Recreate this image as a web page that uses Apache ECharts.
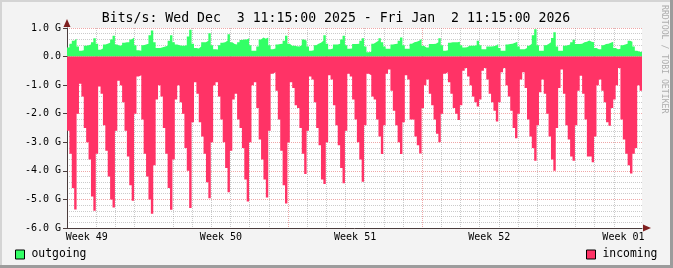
<!DOCTYPE html>
<html>
<head>
<meta charset="utf-8">
<script src="https://cdn.jsdelivr.net/npm/echarts@6/dist/echarts.min.js"></script>
<style>
html,body{margin:0;padding:0;background:#f3f3f3;}
#c{width:673px;height:268px;}
</style>
</head>
<body>
<div id="c"></div>
<script>
// ---- data (Gbit/s), one value per 3-hour bin starting Wed Dec 3 11:15 ----
const titleText = 'Bits/s: Wed Dec  3 11:15:00 2025 - Fri Jan  2 11:15:00 2026';
const seriesNames = ['outgoing', 'incoming'];
const weekLabels = ['Week 49', 'Week 50', 'Week 51', 'Week 52', 'Week 01'];

const incoming = [
  -2.6, -3.4, -4.6, -5.35, -2.0, -0.95, -1.4, -2.5,
  -3.0, -3.6, -4.9, -5.4, -3.4, -1.05, -1.3, -2.4,
  -3.3, -4.2, -5.0, -5.28, -2.6, -0.85, -1.0, -1.6,
  -2.6, -3.5, -4.5, -5.05, -2.0, -0.7, -0.65, -2.2,
  -3.4, -4.2, -5.0, -5.5, -3.8, -1.5, -1.0, -1.4,
  -2.5, -3.4, -4.6, -5.36, -3.6, -1.5, -1.0, -1.6,
  -2.0, -3.2, -4.0, -5.3, -2.3, -0.9, -1.3, -2.3,
  -2.8, -3.4, -4.4, -4.96, -3.0, -1.0, -0.9, -1.4,
  -2.2, -3.0, -3.9, -4.75, -3.3, -1.5, -1.3, -2.2,
  -2.5, -3.2, -4.3, -5.07, -3.0, -1.0, -0.9, -1.8,
  -2.9, -3.6, -4.3, -4.93, -2.6, -0.6, -0.55, -1.2,
  -2.2, -3.3, -4.5, -5.14, -3.0, -0.9, -1.1, -1.7,
  -1.8, -2.5, -3.4, -4.11, -2.6, -0.7, -0.8, -1.6,
  -2.5, -3.1, -4.3, -4.46, -3.0, -0.65, -0.8, -1.7,
  -2.4, -3.1, -3.9, -4.43, -2.6, -0.6, -0.7, -1.5,
  -2.2, -3.0, -3.6, -4.38, -2.4, -0.6, -0.65, -1.4,
  -1.5, -2.2, -2.8, -3.41, -2.4, -0.6, -0.45, -1.2,
  -1.9, -2.4, -3.0, -3.41, -2.3, -0.65, -0.8, -2.2,
  -2.2, -2.8, -3.1, -3.39, -1.8, -1.0, -0.8, -1.3,
  -1.7, -2.2, -2.7, -3.0, -2.0, -0.6, -0.55, -0.9,
  -1.3, -1.8, -2.0, -2.22, -1.7, -0.5, -0.4, -0.7,
  -1.0, -1.4, -1.6, -1.75, -1.5, -0.5, -0.4, -0.8,
  -1.3, -1.6, -1.9, -2.27, -1.6, -0.55, -0.4, -1.0,
  -1.4, -1.9, -2.5, -2.86, -2.0, -0.8, -0.55, -1.1,
  -2.2, -2.8, -3.2, -3.65, -2.4, -1.25, -0.8, -1.3,
  -2.0, -2.8, -3.6, -4.0, -2.5, -1.1, -0.45, -1.3,
  -2.4, -2.9, -3.5, -3.65, -2.4, -1.2, -0.67, -1.3,
  -2.2, -3.5, -3.5, -3.7, -2.8, -1.0, -0.8, -1.2,
  -1.6, -2.3, -2.42, -1.8, -1.5, -1.0, -0.4, -2.2,
  -2.9, -3.4, -3.8, -4.09, -3.4, -3.2, -1.0, -1.2
];

const outgoing = [
  0.32, 0.45, 0.55, 0.62, 0.35, 0.20, 0.22, 0.38,
  0.40, 0.42, 0.50, 0.64, 0.45, 0.24, 0.28, 0.42,
  0.45, 0.48, 0.60, 0.73, 0.42, 0.38, 0.40, 0.48,
  0.50, 0.50, 0.60, 0.67, 0.40, 0.22, 0.20, 0.40,
  0.42, 0.45, 0.75, 0.91, 0.50, 0.30, 0.30, 0.33,
  0.35, 0.38, 0.55, 0.75, 0.50, 0.42, 0.40, 0.38,
  0.38, 0.40, 0.70, 0.94, 0.45, 0.30, 0.28, 0.35,
  0.50, 0.50, 0.55, 0.82, 0.40, 0.26, 0.25, 0.40,
  0.48, 0.50, 0.55, 0.78, 0.50, 0.44, 0.42, 0.50,
  0.58, 0.60, 0.60, 0.64, 0.40, 0.20, 0.20, 0.35,
  0.60, 0.67, 0.62, 0.67, 0.40, 0.26, 0.28, 0.42,
  0.44, 0.45, 0.55, 0.73, 0.45, 0.38, 0.38, 0.36,
  0.35, 0.40, 0.60, 0.55, 0.35, 0.20, 0.22, 0.40,
  0.45, 0.48, 0.55, 0.75, 0.45, 0.26, 0.28, 0.42,
  0.42, 0.45, 0.60, 0.73, 0.40, 0.27, 0.28, 0.44,
  0.44, 0.45, 0.55, 0.64, 0.35, 0.15, 0.17, 0.45,
  0.50, 0.55, 0.64, 0.50, 0.35, 0.27, 0.27, 0.42,
  0.44, 0.45, 0.55, 0.67, 0.40, 0.27, 0.27, 0.45,
  0.50, 0.52, 0.55, 0.62, 0.38, 0.32, 0.32, 0.44,
  0.44, 0.45, 0.50, 0.64, 0.40, 0.20, 0.22, 0.48,
  0.50, 0.50, 0.50, 0.52, 0.40, 0.32, 0.33, 0.38,
  0.38, 0.38, 0.40, 0.55, 0.40, 0.26, 0.26, 0.35,
  0.35, 0.36, 0.38, 0.44, 0.30, 0.20, 0.20, 0.42,
  0.44, 0.45, 0.48, 0.52, 0.35, 0.26, 0.26, 0.30,
  0.38, 0.45, 0.75, 0.96, 0.40, 0.20, 0.20, 0.40,
  0.44, 0.50, 0.65, 0.85, 0.35, 0.20, 0.20, 0.38,
  0.40, 0.42, 0.50, 0.59, 0.44, 0.44, 0.45, 0.50,
  0.52, 0.56, 0.52, 0.50, 0.30, 0.26, 0.26, 0.40,
  0.44, 0.45, 0.48, 0.52, 0.30, 0.26, 0.27, 0.40,
  0.42, 0.45, 0.55, 0.52, 0.35, 0.20, 0.17, 0.16
];

// ---- time helpers (x axis in hours since the start of the graph) ----
const HOUR = 3600e3;
const T0 = Date.UTC(2025, 11, 3, 11, 15);
const T1 = Date.UTC(2026, 0, 2, 11, 15);
const SPAN = (T1 - T0) / HOUR;
const STEP_H = 3;
const hOf = t => (t - T0) / HOUR;

const minorDays = [], majorWeeks = [];
for (let d = Date.UTC(2025, 11, 4); d < T1; d += 24 * HOUR) {
  (new Date(d).getUTCDay() === 1 ? majorWeeks : minorDays).push(hOf(d));
}
const weekLabelPos = weekLabels.map((_, k) => hOf(Date.UTC(2025, 11, 4, 12) + k * 7 * 24 * HOUR));

function toSteps(arr) {
  const out = arr.map((v, i) => [i * STEP_H, v]);
  out.push([SPAN, arr[arr.length - 1]]);
  return out;
}

const MONO = '"DejaVu Sans Mono", monospace';
const AXIS = '#4a3c3c';
const ARROW = '#7f1f1f';
const MINOR = 'rgba(140,140,140,0.45)';
const MAJOR = 'rgba(222,80,80,0.5)';

const chart = echarts.init(document.getElementById('c'), null, {renderer: 'canvas'});

const baseX = {type: 'value', min: 0, max: SPAN, position: 'bottom', axisLine: {show: false, onZero: false},
  axisTick: {show: false}, axisLabel: {show: false}, splitLine: {show: false}};

chart.setOption({
  backgroundColor: '#f3f3f3',
  animation: false,
  grid: {left: 67, top: 28, width: 575, height: 200, show: true, backgroundColor: '#ffffff', borderWidth: 0},
  xAxis: [
    Object.assign({}, baseX, {
      axisLine: {show: true, onZero: false, lineStyle: {color: AXIS, width: 1}},
      axisLabel: {show: true, customValues: weekLabelPos, margin: 4,
        formatter: v => { const i = weekLabelPos.findIndex(p => Math.abs(p - v) < 1e-6); return i >= 0 ? weekLabels[i] : ''; },
        fontFamily: MONO, fontSize: 10, color: '#000'},
      axisTick: {show: false, customValues: weekLabelPos}
    }),
    Object.assign({}, baseX, {
      axisTick: {show: false, customValues: minorDays},
      splitLine: {show: true, showMinLine: false, showMaxLine: false, lineStyle: {color: MINOR, width: 1, type: [1, 1]}}
    }),
    Object.assign({}, baseX, {
      axisTick: {show: false, customValues: majorWeeks},
      splitLine: {show: true, showMinLine: false, showMaxLine: false, lineStyle: {color: MAJOR, width: 1, type: [1, 1]}}
    }),
    Object.assign({}, baseX, {
      axisLine: {show: true, onZero: false, symbol: ['none', 'triangle'], symbolSize: [7, 8], symbolOffset: [0, 5],
        lineStyle: {color: ARROW, width: 0}}
    })
  ],
  yAxis: [
    {type: 'value', min: -6, max: 1, interval: 1, position: 'left',
      axisLine: {show: true, onZero: false, lineStyle: {color: AXIS, width: 1}},
      axisTick: {show: true, length: 4, lineStyle: {color: AXIS}},
      axisLabel: {margin: 6, fontFamily: MONO, fontSize: 10, color: '#000',
        formatter: v => (v === 0 ? '0.0' : v.toFixed(1) + ' G')},
      minorTick: {show: false, splitNumber: 5},
      splitLine: {show: true, showMinLine: false, lineStyle: {color: MAJOR, width: 1, type: [1, 1]}},
      minorSplitLine: {show: true, lineStyle: {color: MINOR, width: 1, type: [1, 1]}}
    },
    {type: 'value', min: -6, max: 1, interval: 1, position: 'left', offset: 0,
      axisLine: {show: true, onZero: false, symbol: ['none', 'triangle'], symbolSize: [7, 8], symbolOffset: [0, 5],
        lineStyle: {color: ARROW, width: 0}},
      axisTick: {show: false}, axisLabel: {show: false}, splitLine: {show: false}
    }
  ],
  legend: [
    {data: [seriesNames[0]], left: 15, top: 249, padding: 0, icon: 'rect', itemWidth: 9, itemHeight: 9,
      selectedMode: false, itemStyle: {borderColor: '#000', borderWidth: 1},
      textStyle: {fontFamily: MONO, fontSize: 11.4, color: '#000', padding: [0, 0, 0, 2]}},
    {data: [seriesNames[1]], left: 586, top: 249, padding: 0, icon: 'rect', itemWidth: 9, itemHeight: 9,
      selectedMode: false, itemStyle: {borderColor: '#000', borderWidth: 1},
      textStyle: {fontFamily: MONO, fontSize: 11.4, color: '#000', padding: [0, 0, 0, 2]}}
  ],
  series: [
    {name: seriesNames[0], type: 'line', step: 'end', xAxisIndex: 0, yAxisIndex: 0, data: toSteps(outgoing),
      symbol: 'none', color: '#33ff66', lineStyle: {width: 0}, areaStyle: {color: '#33ff66', opacity: 1}, z: 3},
    {name: seriesNames[1], type: 'line', step: 'end', xAxisIndex: 0, yAxisIndex: 0, data: toSteps(incoming),
      symbol: 'none', color: '#ff3366', lineStyle: {width: 0}, areaStyle: {color: '#ff3366', opacity: 1}, z: 3}
  ],
  graphic: [
    {type: 'text', x: 336, y: 19, silent: true,
      style: {text: titleText, font: '13.2px ' + MONO, fill: '#000', textAlign: 'center', textVerticalAlign: 'middle'}},
    {type: 'text', x: 664, y: 5, rotation: -Math.PI / 2, silent: true,
      style: {text: 'RRDTOOL / TOBI OETIKER', font: '8.2px ' + MONO, fill: '#adadad', textAlign: 'left', textVerticalAlign: 'middle'}},
    {type: 'rect', shape: {x: 0, y: 0, width: 673, height: 2}, style: {fill: '#d4d4d4'}, silent: true},
    {type: 'rect', shape: {x: 0, y: 0, width: 2, height: 268}, style: {fill: '#d4d4d4'}, silent: true},
    {type: 'rect', shape: {x: 0, y: 265, width: 673, height: 3}, style: {fill: '#9c9c9c'}, silent: true},
    {type: 'rect', shape: {x: 670, y: 0, width: 3, height: 268}, style: {fill: '#9c9c9c'}, silent: true}
  ]
});
</script>
</body>
</html>
